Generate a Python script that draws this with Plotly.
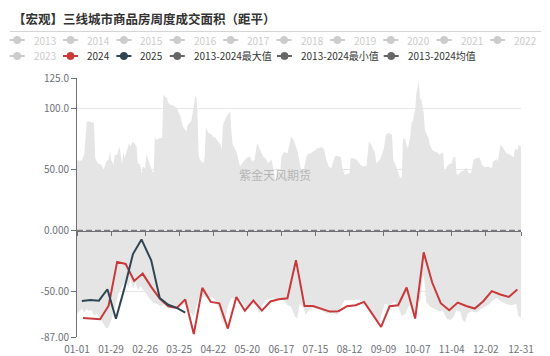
import plotly.graph_objects as go
import pandas as pd
from datetime import date, timedelta

TITLE = "【宏观】三线城市商品房周度成交面积（距平）"
WATERMARK = "紫金天风期货"

x_tick_labels = ["01-01", "01-29", "02-26", "03-25", "04-22", "05-20", "06-17",
                 "07-15", "08-12", "09-09", "10-07", "11-04", "12-02", "12-31"]
y_tick_values = [-87, -50, 0, 50, 100, 125]
y_tick_labels = ["-87.00", "-50.00", "0.000", "50.00", "100.0", "125.0"]

legend_row1 = ["2013", "2014", "2015", "2016", "2017", "2018", "2019", "2020", "2021", "2022"]
legend_row2 = ["2023", "2024", "2025", "2013-2024最大值", "2013-2024最小值", "2013-2024均值"]

# weekly series (距平)
start_2024 = "2024-01-06"
values_2024 = [-71.4, -71.9, -72.5, -61.4, -25.5, -27.2, -41.1, -35.1, -46.0, -55.5,
               -61.8, -63.2, -56.2, -84.6, -46.8, -58.3, -59.4, -80.1, -54.3, -65.5,
               -57.1, -65.4, -57.9, -56.1, -55.3, -24.1, -61.6, -61.6, -63.7, -66.2,
               -65.9, -61.8, -61.0, -58.3, -68.5, -78.8, -61.8, -61.0, -46.5, -71.9,
               -17.7, -42.4, -59.3, -65.1, -58.8, -61.6, -63.7, -57.7, -49.5, -52.2,
               -54.2, -48.1]
start_2025 = "2025-01-05"
values_2025 = [-57.5, -56.7, -57.3, -47.9, -72.1, -47.0, -19.1, -7.1, -24.3, -55.0,
               -60.6, -63.2, -67.0]

# 2013-2024 max / min (day of year offset, value)
max_day = [0, 4, 6, 8, 9, 13, 14, 15, 17, 20, 22, 24, 26, 27, 28, 30, 31, 33, 35, 37,
           38, 39, 41, 43, 44, 46, 49, 50, 52, 53, 54, 56, 57, 59, 62, 63, 64, 65, 68, 70,
           71, 72, 74, 75, 77, 79, 82, 85, 87, 90, 91, 94, 97, 98, 99, 100, 101, 104, 105, 106,
           108, 111, 112, 113, 115, 118, 119, 120, 123, 126, 127, 128, 131, 133, 134, 137, 139, 142, 144, 146,
           148, 150, 153, 155, 157, 159, 160, 161, 163, 164, 166, 167, 168, 170, 173, 176, 178, 181, 182, 184,
           186, 189, 192, 194, 197, 198, 201, 203, 205, 207, 209, 212, 214, 217, 218, 220, 224, 225, 227, 230,
           233, 235, 238, 240, 242, 245, 246, 249, 252, 254, 256, 259, 260, 263, 265, 267, 268, 270, 271, 272,
           274, 275, 276, 278, 279, 281, 282, 283, 285, 286, 287, 289, 290, 292, 294, 296, 298, 301, 302, 305,
           308, 309, 311, 312, 313, 316, 319, 320, 322, 324, 326, 328, 331, 333, 335, 338, 341, 342, 345, 346,
           348, 350, 353, 356, 359, 360, 362, 363, 365]
max_value = [57.5, 57.5, 62.7, 89.0, 89.5, 88.1, 88.1, 59.4, 55.3, 53.9, 49.8, 56.7, 58.0, 65.4, 58.0, 53.9, 62.2, 62.2, 69.0, 53.9,
             64.9, 59.4, 64.9, 71.7, 69.0, 73.1, 69.0, 55.3, 53.9, 46.3, 52.6, 51.2, 62.2, 56.7, 48.5, 47.9, 77.2, 74.5, 75.8, 75.8,
             111.4, 110.0, 108.7, 104.6, 103.2, 102.7, 100.5, 93.6, 85.4, 81.3, 86.8, 89.5, 108.7, 110.9, 97.7, 62.2, 58.0, 55.3, 60.8, 84.6,
             79.9, 78.6, 75.8, 77.2, 74.5, 70.4, 66.3, 86.8, 93.6, 97.7, 79.9, 70.4, 64.9, 57.2, 52.6, 56.7, 59.4, 60.8, 56.7, 58.0,
             71.7, 67.6, 60.8, 59.4, 55.3, 57.2, 58.0, 52.6, 40.0, 45.7, 48.5, 45.7, 60.0, 64.5, 63.5, 76.9, 74.5, 66.0, 60.0, 51.2,
             48.5, 62.2, 63.5, 64.9, 66.8, 67.6, 68.4, 66.8, 58.0, 52.6, 51.2, 60.8, 61.3, 60.2, 52.6, 45.7, 47.1, 59.4, 59.4, 58.0,
             53.9, 52.6, 53.1, 73.1, 70.4, 63.5, 55.3, 58.0, 66.3, 78.6, 79.9, 78.6, 58.0, 51.2, 44.3, 43.0, 75.8, 74.5, 69.5, 67.6,
             77.2, 88.1, 89.5, 99.1, 112.7, 122.3, 107.3, 107.8, 96.3, 82.6, 79.9, 75.8, 70.4, 66.3, 64.9, 64.0, 62.2, 64.0, 48.5, 53.9,
             55.3, 59.4, 60.8, 47.1, 45.7, 48.5, 49.8, 52.0, 47.1, 47.1, 58.0, 59.4, 60.0, 53.9, 52.0, 52.6, 51.2, 56.7, 58.5, 56.7,
             70.4, 68.4, 63.5, 62.2, 60.2, 67.6, 65.7, 70.4, 69.0]
min_day = [0, 2, 4, 6, 8, 10, 12, 14, 16, 18, 20, 22, 24, 26, 28, 30, 32, 34, 36, 38,
           40, 42, 44, 46, 48, 50, 52, 54, 56, 58, 60, 63, 66, 69, 72, 76, 80, 84, 88, 91,
           94, 96, 100, 104, 108, 111, 114, 117, 120, 122, 124, 127, 131, 135, 138, 141, 144, 147, 150, 152,
           155, 160, 165, 170, 173, 176, 179, 181, 183, 186, 188, 190, 194, 198, 202, 206, 210, 214, 217, 220,
           225, 230, 235, 238, 242, 246, 248, 250, 253, 257, 261, 264, 267, 270, 273, 276, 278, 280, 282, 284,
           285, 286, 287, 290, 294, 298, 301, 304, 307, 310, 312, 315, 317, 319, 321, 324, 328, 332, 336, 339,
           342, 345, 349, 353, 357, 361, 363, 365]
min_value = [-68, -66, -64, -67, -64, -66, -65, -70, -68, -70, -73, -76, -80, -79, -74, -68, -60, -52, -48, -44,
             -41, -46, -40, -47, -42, -49, -45, -48, -51, -54, -56, -59, -60, -62, -60, -63, -64, -63, -60, -64,
             -68, -70, -55, -54, -55, -54, -57, -65, -76, -74, -62, -55, -56, -57, -62, -64, -60, -61, -68, -62,
             -57, -55, -56, -57, -61, -62, -70, -72, -60, -62, -69, -66, -63, -64, -66, -68, -67, -69, -62, -57,
             -57, -56, -58, -63, -66, -74, -77, -70, -60, -61, -58, -62, -70, -68, -61, -62, -70, -58, -58, -40,
             -36, -45, -58, -62, -64, -66, -66, -72, -73, -70, -65, -66, -73, -75, -68, -66, -67, -64, -62, -60,
             -57, -55, -58, -60, -61, -60, -70, -71]
avg_day = [0, 365]
avg_value = [0.0, 0.0]

COLOR_2024 = "#c9383a"
COLOR_2025 = "#2f4554"
COLOR_BAND = "#666666"
INACTIVE = "#cccccc"
FONT = "Noto Sans CJK SC, Liberation Sans, sans-serif"

BASE = date(2024, 1, 1)


def day_to_date(d):
    return (BASE + timedelta(days=d)).isoformat()


dates_2024 = pd.date_range(start_2024, periods=len(values_2024), freq="7D")
dates_2025 = [d.replace(year=2024) for d in pd.date_range(start_2025, periods=len(values_2025), freq="7D")]
tick_dates = [f"2024-{t}" for t in x_tick_labels]
x_range = [day_to_date(0), day_to_date(365)]

fig = go.Figure()
fig.add_trace(go.Scatter(x=[day_to_date(d) for d in min_day], y=min_value, mode="lines",
                         line=dict(width=0, color="#ffffff"), showlegend=False, hoverinfo="skip"))
fig.add_trace(go.Scatter(x=[day_to_date(d) for d in max_day], y=max_value, mode="lines",
                         line=dict(width=0, color="#e5e5e5"), fill="tonexty", fillcolor="#e5e5e5",
                         showlegend=False, hoverinfo="skip"))
fig.add_trace(go.Scatter(x=[day_to_date(d) for d in avg_day], y=avg_value, mode="lines",
                         line=dict(width=2, color="#808080", dash="6px,3px"), showlegend=False))
fig.add_trace(go.Scatter(x=dates_2024, y=values_2024, mode="lines",
                         line=dict(width=2, color=COLOR_2024), showlegend=False))
fig.add_trace(go.Scatter(x=dates_2025, y=values_2025, mode="lines",
                         line=dict(width=2, color=COLOR_2025), showlegend=False))
# trace on the zero-line axis (instantiates xaxis2)
fig.add_trace(go.Scatter(x=[day_to_date(d) for d in avg_day], y=avg_value, xaxis="x2", mode="lines",
                         line=dict(width=0), showlegend=False, hoverinfo="skip"))

W, H = 550, 356
L, R, T, B = 77, 29, 78, 19
PW, PH = W - L - R, H - T - B


def px_x(px):
    return (px - L) / PW


def px_y(py):
    return (H - B - py) / PH


shapes = []
annotations = []

# custom legend (ECharts style)
row_specs = [
    (40, legend_row1, [31.7 + 53.37 * i for i in range(10)], [False] * 10),
    (56, legend_row2, [31.7, 85.0, 138.4, 191.8, 299.0, 405.7], [False, True, True, True, True, True]),
]
active_colors = {"2024": COLOR_2024, "2025": COLOR_2025}
for ry, names, xs, actives in row_specs:
    for name, tx, act in zip(names, xs, actives):
        icol = active_colors.get(name, COLOR_BAND) if act else INACTIVE
        tcol = "#333333" if act else INACTIVE
        ix0 = tx - 22
        shapes.append(dict(type="line", xref="paper", yref="paper",
                           x0=px_x(ix0), x1=px_x(ix0 + 15), y0=px_y(ry), y1=px_y(ry),
                           line=dict(color=icol, width=2)))
        cx = ix0 + 7.5
        shapes.append(dict(type="circle", xref="paper", yref="paper",
                           x0=px_x(cx - 3.6), x1=px_x(cx + 3.6), y0=px_y(ry + 3.6), y1=px_y(ry - 3.6),
                           fillcolor=icol, line=dict(color=icol, width=1)))
        annotations.append(dict(text=name, xref="paper", yref="paper", x=px_x(tx), y=px_y(ry),
                                xanchor="left", yanchor="middle", showarrow=False,
                                font=dict(size=10, color=tcol, family=FONT)))

# title + underline
annotations.append(dict(text=TITLE, xref="paper", yref="paper", x=px_x(11), y=px_y(18),
                        xanchor="left", yanchor="middle", showarrow=False,
                        font=dict(size=12.5, color="#333333", family=FONT, weight="bold")))
shapes.append(dict(type="line", xref="paper", yref="paper", x0=px_x(10), x1=px_x(541),
                   y0=px_y(31.5), y1=px_y(31.5), line=dict(color="#d5d5d5", width=1)))

# watermark
annotations.append(dict(text=WATERMARK, xref="paper", yref="paper", x=px_x(275), y=px_y(174),
                        xanchor="center", yanchor="middle", showarrow=False,
                        font=dict(size=12, color="rgba(140,140,140,0.55)", family=FONT)))

axis_col = "#6e7079"
zero_pos = (0 - (-87)) / (125 - (-87))

fig.update_layout(
    width=W, height=H,
    margin=dict(l=L, r=R, t=T, b=B, pad=0, autoexpand=False),
    paper_bgcolor="white", plot_bgcolor="white",
    showlegend=False,
    shapes=shapes, annotations=annotations,
    font=dict(family=FONT, size=10, color=axis_col),
    xaxis=dict(type="date", range=x_range, tickvals=tick_dates, ticktext=x_tick_labels,
               showgrid=False, zeroline=False, showline=False, ticks="outside", ticklen=3,
               tickcolor="rgba(0,0,0,0)", tickfont=dict(size=10, color=axis_col),
               automargin=False),
    xaxis2=dict(type="date", range=x_range, overlaying="x", anchor="free", position=zero_pos,
                tickvals=tick_dates, showticklabels=False, showgrid=False, zeroline=False,
                showline=True, linecolor=axis_col, linewidth=1, ticks="outside", ticklen=4,
                tickcolor=axis_col, automargin=False),
    yaxis=dict(range=[-87, 125], tickvals=y_tick_values, ticktext=y_tick_labels,
               showgrid=True, gridcolor="#e6e6e6", gridwidth=1, zeroline=False,
               showline=True, linecolor=axis_col, linewidth=1, ticks="outside", ticklen=5,
               tickcolor=axis_col, tickfont=dict(size=10, color=axis_col), automargin=False),
)

fig.write_html("out.html", config={"displayModeBar": False},
               post_script="document.body.style.margin='0px';document.body.style.overflow='hidden';")
